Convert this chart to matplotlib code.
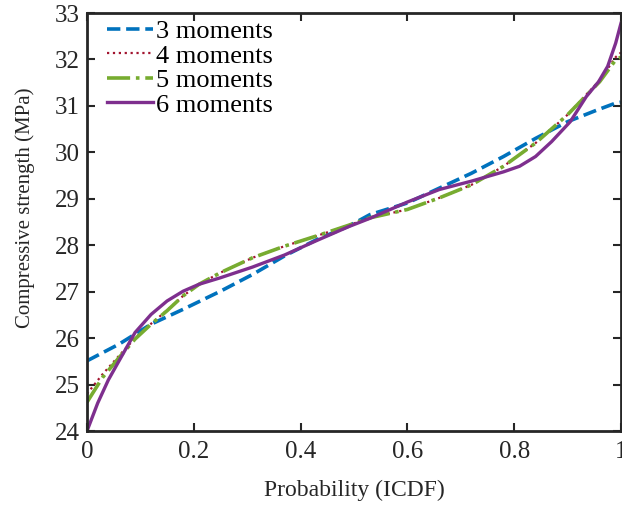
import matplotlib
matplotlib.use('Agg')
import matplotlib.pyplot as plt

# Values (probability -> strength in MPa)
p3 = [0.0, 0.06, 0.12, 0.18, 0.25, 0.31, 0.37, 0.43, 0.49, 0.53, 0.60, 0.66, 0.72, 0.78, 0.84, 0.90, 0.955, 0.99, 1.0]
m3 = [25.51, 25.87, 26.30, 26.62, 27.01, 27.37, 27.77, 28.12, 28.41, 28.66, 28.91, 29.23, 29.55, 29.91, 30.30, 30.66, 30.91, 31.06, 31.08]

p45 = [0.0, 0.029, 0.06, 0.09, 0.12, 0.15, 0.18, 0.21, 0.25, 0.31, 0.37, 0.43, 0.49, 0.53, 0.60, 0.66, 0.72, 0.78, 0.84, 0.90, 0.96, 0.99, 1.0]
m4 = [24.80, 25.22, 25.62, 26.00, 26.31, 26.60, 26.91, 27.16, 27.41, 27.73, 27.98, 28.20, 28.43, 28.59, 28.77, 29.02, 29.30, 29.70, 30.20, 30.81, 31.55, 32.05, 32.15]
m5 = [24.62, 25.15, 25.58, 25.98, 26.30, 26.59, 26.91, 27.16, 27.41, 27.73, 27.98, 28.20, 28.43, 28.59, 28.77, 29.02, 29.30, 29.70, 30.20, 30.81, 31.52, 31.99, 32.05]

p6 = [0.0, 0.02, 0.04, 0.06, 0.09, 0.12, 0.15, 0.18, 0.21, 0.25, 0.31, 0.37, 0.43, 0.49, 0.53, 0.60, 0.66, 0.72, 0.78, 0.81, 0.84, 0.87, 0.905, 0.935, 0.958, 0.975, 0.99, 1.0]
m6 = [24.00, 24.60, 25.10, 25.51, 26.12, 26.51, 26.80, 27.01, 27.16, 27.30, 27.53, 27.79, 28.10, 28.40, 28.58, 28.93, 29.20, 29.38, 29.58, 29.70, 29.91, 30.23, 30.66, 31.20, 31.52, 31.85, 32.35, 32.78]

plt.rcParams['font.family'] = ['Liberation Serif', 'DejaVu Serif']

fig = plt.figure(figsize=(6.22, 5.05), dpi=100)
ax = fig.add_axes([87 / 622, 74 / 505, 534 / 622, 418 / 505])

ax.plot(p3, m3, color='#0072BD', linestyle='--', linewidth=2.6, label='3 moments')
ax.plot(p45, m4, color='#A2142F', linestyle=':', linewidth=1.6, label='4 moments')
ax.plot(p45, m5, color='#77AC30', linestyle='-.', linewidth=2.6, label='5 moments')
ax.plot(p6, m6, color='#7E2F8E', linestyle='-', linewidth=2.4, label='6 moments')

ax.set_xlim(0, 1)
ax.set_ylim(24, 33)
ax.set_xticks([0, 0.2, 0.4, 0.6, 0.8, 1])
ax.set_xticklabels(['0', '0.2', '0.4', '0.6', '0.8', '1'])
ax.set_yticks(range(24, 34))

ax.tick_params(direction='in', top=True, right=True, length=6, width=1.5,
               labelsize=18, colors='#262626')
ax.tick_params(axis='x', pad=7)
ax.tick_params(axis='y', pad=5)
for s in ax.spines.values():
    s.set_linewidth(2)
    s.set_color('#262626')

ax.set_xlabel('Probability (ICDF)', fontsize=17, color='#262626', labelpad=12)
ax.set_ylabel('Compressive strength (MPa)', fontsize=15, color='#262626')
ax.yaxis.set_label_coords(-0.098, 0.535)

ax.legend(loc='upper left', frameon=False, fontsize=19, handlelength=1.75,
          handletextpad=0.12, labelspacing=0.04, borderpad=0.25,
          borderaxespad=0.0, bbox_to_anchor=(0.025, 1.0))

fig.savefig('out.png', dpi=100)
